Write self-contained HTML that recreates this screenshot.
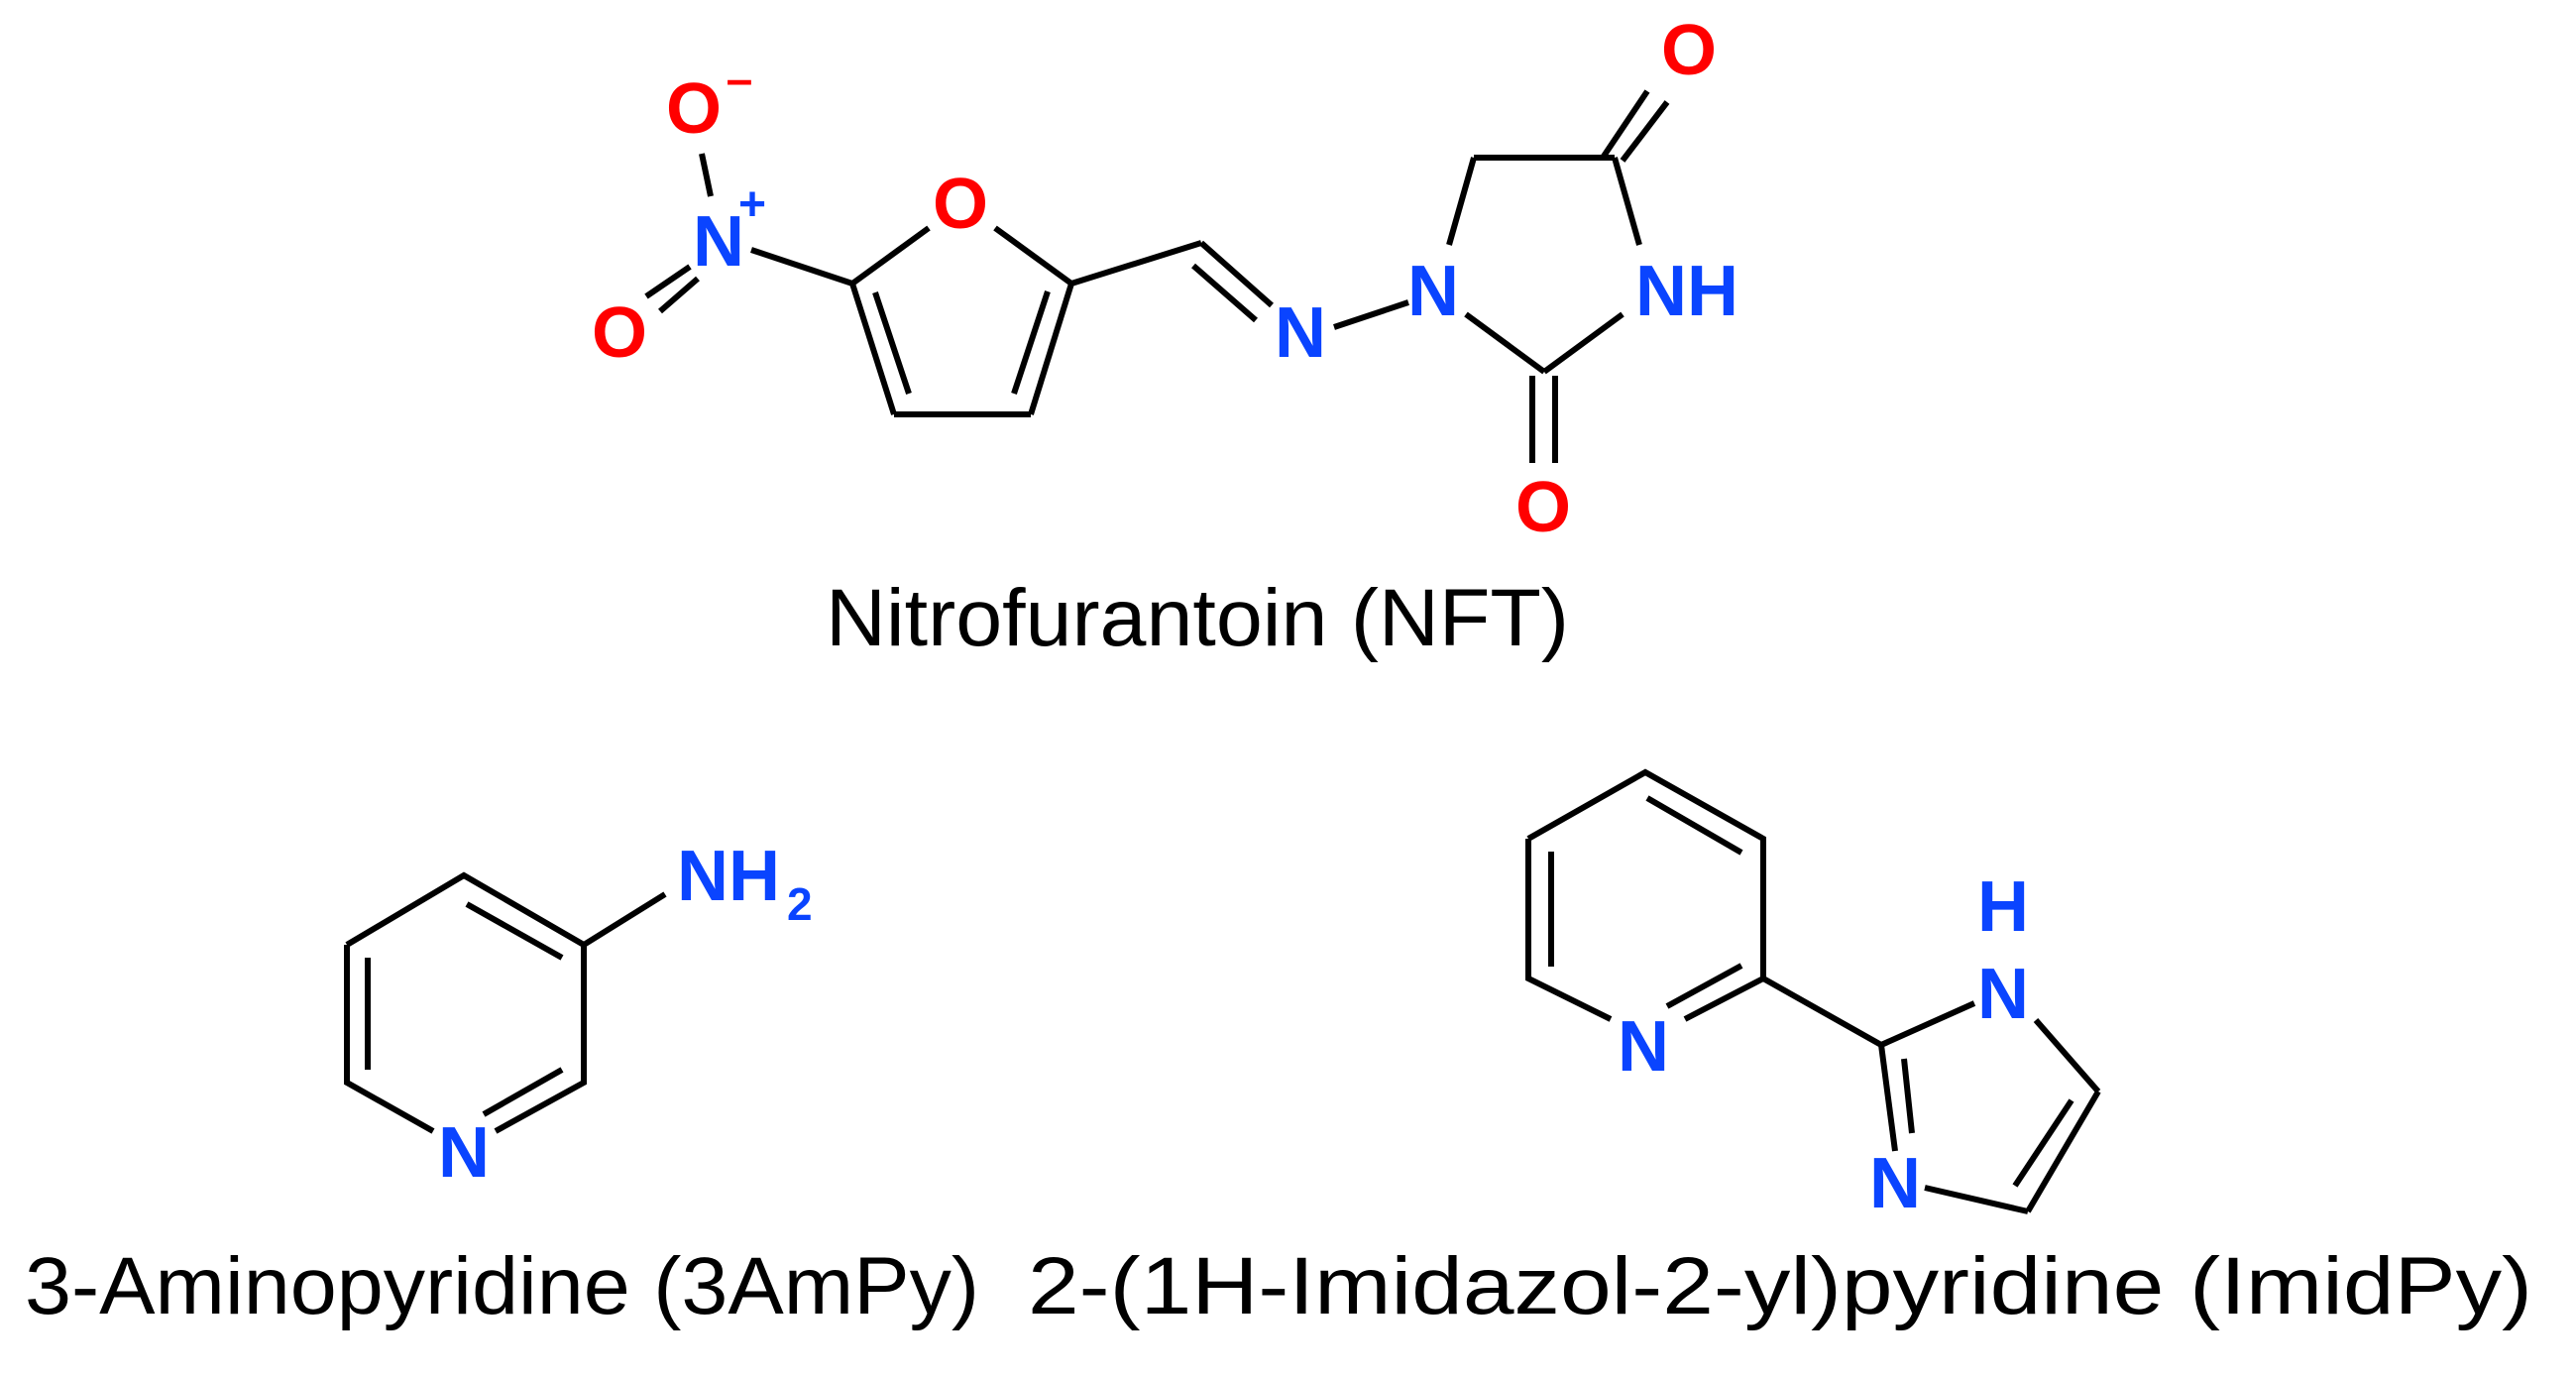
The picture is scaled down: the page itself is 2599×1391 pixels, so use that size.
<!DOCTYPE html>
<html><head><meta charset="utf-8"><style>
html,body{margin:0;padding:0;background:#fff;}
svg{display:block;}
</style></head><body>
<svg width="2599" height="1391" viewBox="0 0 2599 1391" xmlns="http://www.w3.org/2000/svg">
<g stroke="#000" stroke-width="6" fill="none" stroke-linecap="butt">
<!-- NFT -->
<line x1="708" y1="155" x2="717" y2="198"/>
<line x1="696" y1="269" x2="652" y2="299"/>
<line x1="704" y1="281" x2="666" y2="314"/>
<line x1="758" y1="252" x2="860" y2="286"/>
<line x1="860" y1="286" x2="937" y2="230"/>
<line x1="1004" y1="230" x2="1081" y2="286"/>
<line x1="860" y1="286" x2="902" y2="418"/>
<line x1="902" y1="418" x2="1040" y2="418"/>
<line x1="1040" y1="418" x2="1081" y2="286"/>
<line x1="883" y1="295" x2="917" y2="397"/>
<line x1="1057" y1="294" x2="1023" y2="397"/>
<line x1="1081" y1="286" x2="1212" y2="245"/>
<line x1="1212" y1="245" x2="1283" y2="308"/>
<line x1="1204" y1="268" x2="1267" y2="323"/>
<line x1="1346" y1="330" x2="1421" y2="305"/>
<line x1="1462" y1="247" x2="1487" y2="159"/>
<line x1="1487" y1="159" x2="1629" y2="159"/>
<line x1="1617" y1="159" x2="1662" y2="92"/>
<line x1="1637" y1="162" x2="1682" y2="103"/>
<line x1="1629" y1="159" x2="1654" y2="247"/>
<line x1="1637" y1="317" x2="1558" y2="375"/>
<line x1="1479" y1="317" x2="1558" y2="375"/>
<line x1="1546" y1="379" x2="1546" y2="467"/>
<line x1="1569" y1="379" x2="1569" y2="467"/>
<!-- 3AmPy -->
<line x1="589" y1="953" x2="671" y2="902"/>
<polyline points="350,953 468,883 589,953 589,1092 500,1141"/>
<polyline points="437,1141 350,1092 350,953"/>
<line x1="471" y1="912" x2="567" y2="966"/>
<line x1="371" y1="966" x2="371" y2="1079"/>
<line x1="567" y1="1079" x2="488" y2="1124"/>
<!-- ImidPy -->
<polyline points="1542,846 1660,779 1779,846 1779,987 1700,1028"/>
<polyline points="1625,1028 1542,987 1542,846"/>
<line x1="1662" y1="805" x2="1757" y2="860"/>
<line x1="1565" y1="859" x2="1565" y2="975"/>
<line x1="1757" y1="974" x2="1682" y2="1015"/>
<line x1="1779" y1="987" x2="1898" y2="1054"/>
<line x1="1898" y1="1054" x2="1992" y2="1012"/>
<line x1="2054" y1="1029" x2="2117" y2="1101"/>
<line x1="2117" y1="1101" x2="2046" y2="1222"/>
<line x1="2090" y1="1110" x2="2033" y2="1196"/>
<line x1="2046" y1="1222" x2="1942" y2="1198"/>
<line x1="1898" y1="1054" x2="1912" y2="1161"/>
<line x1="1921" y1="1068" x2="1929" y2="1143"/>
</g>
<g font-family="Liberation Sans, sans-serif" font-size="72" font-weight="bold" text-anchor="middle">
<text x="700" y="134" fill="#f00">O</text>
<text x="746" y="96" fill="#f00" font-size="48">–</text>
<text x="725" y="268" fill="#0a44ff">N</text>
<text x="759" y="222" fill="#0a44ff" font-size="48">+</text>
<text x="625" y="360" fill="#f00">O</text>
<text x="969" y="230" fill="#f00">O</text>
<text x="1312" y="360" fill="#0a44ff">N</text>
<text x="1446" y="318" fill="#0a44ff">N</text>
<text x="1702" y="318" fill="#0a44ff">NH</text>
<text x="1704" y="75" fill="#f00">O</text>
<text x="1557" y="536" fill="#f00">O</text>
<text x="683" y="908" fill="#0a44ff" text-anchor="start">NH</text>
<text x="794" y="928" fill="#0a44ff" font-size="46" text-anchor="start">2</text>
<text x="468" y="1187" fill="#0a44ff">N</text>
<text x="1658" y="1080" fill="#0a44ff">N</text>
<text x="2021" y="1027" fill="#0a44ff">N</text>
<text x="2021" y="939" fill="#0a44ff">H</text>
<text x="1912" y="1218" fill="#0a44ff">N</text>
</g>
<g font-family="Liberation Sans, sans-serif" font-size="82" fill="#000">
<text x="833" y="651" textLength="750" lengthAdjust="spacingAndGlyphs">Nitrofurantoin (NFT)</text>
<text x="25" y="1325" textLength="963" lengthAdjust="spacingAndGlyphs">3-Aminopyridine (3AmPy)</text>
<text x="1037" y="1325" textLength="1518" lengthAdjust="spacingAndGlyphs">2-(1H-Imidazol-2-yl)pyridine (ImidPy)</text>
</g>
</svg>
</body></html>
